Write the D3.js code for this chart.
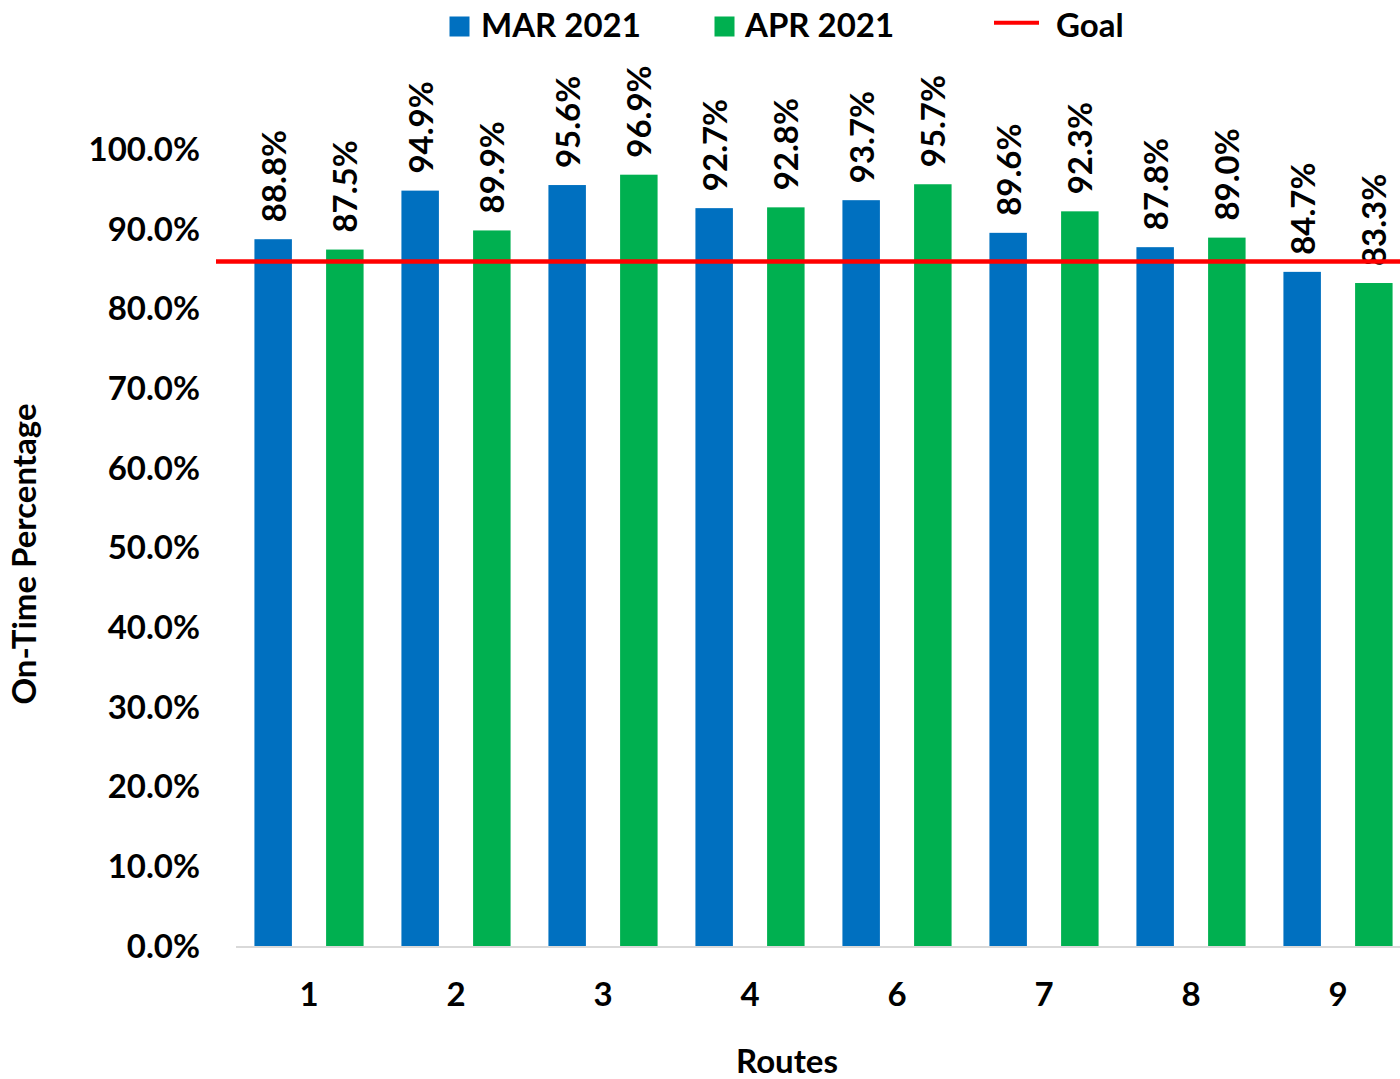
<!DOCTYPE html>
<html>
<head>
<meta charset="utf-8">
<script src="https://cdn.jsdelivr.net/npm/d3@7"></script>
<style>
  html, body { margin: 0; padding: 0; background: #fff; }
  svg { display: block; }
  text { font-family: Lato, "Open Sans", sans-serif; font-weight: 700; fill: #000; }
</style>
</head>
<body>
<svg id="chart" width="1400" height="1079"></svg>
<script>
// Route on-time performance, two months compared against a goal
const routes = ["1", "2", "3", "4", "6", "7", "8", "9"];
const seriesNames = ["MAR 2021", "APR 2021"];
const mar2021 = [88.8, 94.9, 95.6, 92.7, 93.7, 89.6, 87.8, 84.7];
const apr2021 = [87.5, 89.9, 96.9, 92.8, 95.7, 92.3, 89.0, 83.3];
const goalValue = 86.0;
const yTicks = [0, 10, 20, 30, 40, 50, 60, 70, 80, 90, 100];
const seriesColors = ["#0070C0", "#00B050"];
const goalColor = "#FF0000";

const svg = d3.select("#chart");
const fontSize = 33;

// Plot frame
const plotLeft = 235.5, plotRight = 1411.5;
const plotBottom = 946.5, plotTop = 150;

const x = d3.scaleBand().domain(routes).range([plotLeft, plotRight]).padding(0);
const xs = d3.scaleBand().domain(seriesNames).range([0, x.bandwidth()])
  .paddingInner(0.477).paddingOuter(0.264);
const y = d3.scaleLinear().domain([0, 100]).range([plotBottom, plotTop]);

const fmt = v => v.toFixed(1) + "%";

// Y axis (labels only)
const yAxis = svg.append("g")
  .attr("transform", `translate(${plotLeft},0)`)
  .call(d3.axisLeft(y).tickValues(yTicks).tickSize(0).tickPadding(35.5)
    .tickFormat(d => d.toFixed(1) + "%"));
yAxis.select(".domain").remove();
yAxis.selectAll("text")
  .attr("font-size", fontSize)
  .attr("font-family", "Lato, 'Open Sans', sans-serif")
  .attr("font-weight", 700)
  .attr("fill", "#000");

// Bars
const data = routes.map((r, i) => ({ route: r, values: [
  { name: seriesNames[0], value: mar2021[i], color: seriesColors[0] },
  { name: seriesNames[1], value: apr2021[i], color: seriesColors[1] }
]}));

const groups = svg.append("g").selectAll("g")
  .data(data).join("g")
  .attr("transform", d => `translate(${x(d.route)},0)`);

groups.selectAll("rect")
  .data(d => d.values).join("rect")
  .attr("x", d => xs(d.name))
  .attr("width", xs.bandwidth())
  .attr("y", d => y(d.value))
  .attr("height", d => y(0) - y(d.value))
  .attr("fill", d => d.color);

// Value labels, rotated above each bar
groups.selectAll("text.val")
  .data(d => d.values).join("text")
  .attr("class", "val")
  .attr("font-size", fontSize)
  .attr("text-anchor", "start")
  .attr("transform", d => `translate(${xs(d.name) + xs.bandwidth() / 2 + 12.5},${y(d.value) - 17}) rotate(-90)`)
  .text(d => fmt(d.value));

// X axis
const xAxis = svg.append("g")
  .attr("transform", `translate(0,${plotBottom})`)
  .call(d3.axisBottom(x).tickSize(0));
xAxis.select(".domain")
  .attr("stroke", "#D9D9D9")
  .attr("stroke-width", 2);
xAxis.selectAll("text")
  .attr("font-size", fontSize)
  .attr("font-family", "Lato, 'Open Sans', sans-serif")
  .attr("font-weight", 700)
  .attr("fill", "#000")
  .attr("y", 59.5)
  .attr("dy", 0);

// Goal line
svg.append("line")
  .attr("x1", 216).attr("x2", 1400)
  .attr("y1", y(goalValue)).attr("y2", y(goalValue))
  .attr("stroke", goalColor)
  .attr("stroke-width", 4.5);

// Axis titles
svg.append("text")
  .attr("font-size", fontSize)
  .attr("text-anchor", "middle")
  .attr("x", 787).attr("y", 1073)
  .text("Routes");

svg.append("text")
  .attr("font-size", fontSize)
  .attr("text-anchor", "middle")
  .attr("transform", "translate(36,554) rotate(-90)")
  .text("On-Time Percentage");

// Legend
const legend = svg.append("g");
const legendItems = [
  { label: seriesNames[0], color: seriesColors[0], type: "rect", mx: 449.5, tx: 481 },
  { label: seriesNames[1], color: seriesColors[1], type: "rect", mx: 714.5, tx: 745 },
  { label: "Goal", color: goalColor, type: "line", mx: 994, tx: 1056 }
];
legendItems.forEach(it => {
  if (it.type === "rect") {
    legend.append("rect")
      .attr("x", it.mx).attr("y", 16.5)
      .attr("width", 20).attr("height", 20)
      .attr("fill", it.color);
  } else {
    legend.append("line")
      .attr("x1", it.mx).attr("x2", it.mx + 45)
      .attr("y1", 22.7).attr("y2", 22.7)
      .attr("stroke", it.color).attr("stroke-width", 4);
  }
  legend.append("text")
    .attr("font-size", fontSize)
    .attr("x", it.tx).attr("y", 37)
    .text(it.label);
});
</script>
</body>
</html>
